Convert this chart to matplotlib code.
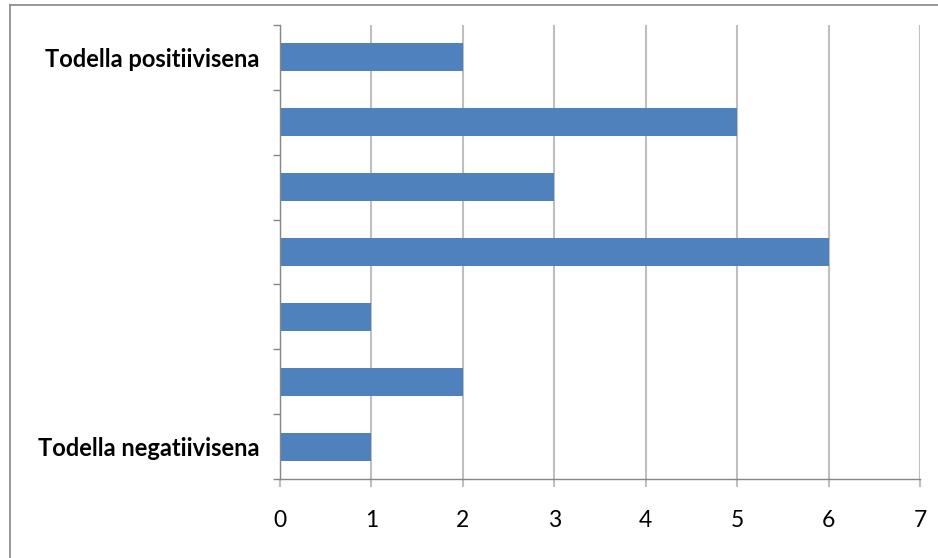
import matplotlib.pyplot as plt
import numpy as np
from matplotlib.lines import Line2D

categories = [
    "Todella negatiivisena", "", "", "", "", "", "Todella positiivisena",
]
counts = [1, 2, 1, 6, 3, 5, 2]
x_ticks = [0, 1, 2, 3, 4, 5, 6, 7]

bar_color = "#4F81BD"
grid_color = "#BFBFBF"
axis_color = "#868686"

plt.rcParams["font.family"] = ["Lato", "DejaVu Sans"]

fig = plt.figure(figsize=(9.38, 5.58), dpi=100)
ax = fig.add_axes([280 / 938, 1 - 479 / 558, 640 / 938, 454 / 558])

ypos = np.arange(len(categories))
ax.barh(ypos, counts, height=0.43, color=bar_color, zorder=3)

ax.set_xlim(0, 7)
ax.set_ylim(-0.5, len(categories) - 0.5)
ax.set_xticks(x_ticks)
ax.set_xticklabels([str(t) for t in x_ticks], fontsize=16.5)
ax.set_yticks(ypos)
ax.set_yticklabels(categories, fontsize=17, fontweight="bold")
ax.set_yticks(np.arange(-0.5, len(categories), 1), minor=True)

ax.tick_params(axis="x", length=6, width=1.5, color=grid_color, pad=16)
ax.tick_params(axis="y", which="major", length=0, pad=15)
ax.tick_params(axis="y", which="minor", length=5, width=1, color=axis_color)

ax.xaxis.grid(True, color=grid_color, linewidth=1.5, zorder=0)
ax.set_axisbelow(True)

for side in ["top", "right"]:
    ax.spines[side].set_visible(False)
for side in ["left", "bottom"]:
    ax.spines[side].set_color(axis_color)
    ax.spines[side].set_linewidth(1)
    ax.spines[side].set_zorder(4)

# chart area border (image is cropped on the right/bottom)
fig.add_artist(Line2D([10 / 938, 10 / 938], [0, 1 - 5 / 558],
                      transform=fig.transFigure, color=axis_color, lw=1.2))
fig.add_artist(Line2D([10 / 938, 1], [1 - 5 / 558, 1 - 5 / 558],
                      transform=fig.transFigure, color=axis_color, lw=1.2))

fig.savefig("out.png", dpi=100)
